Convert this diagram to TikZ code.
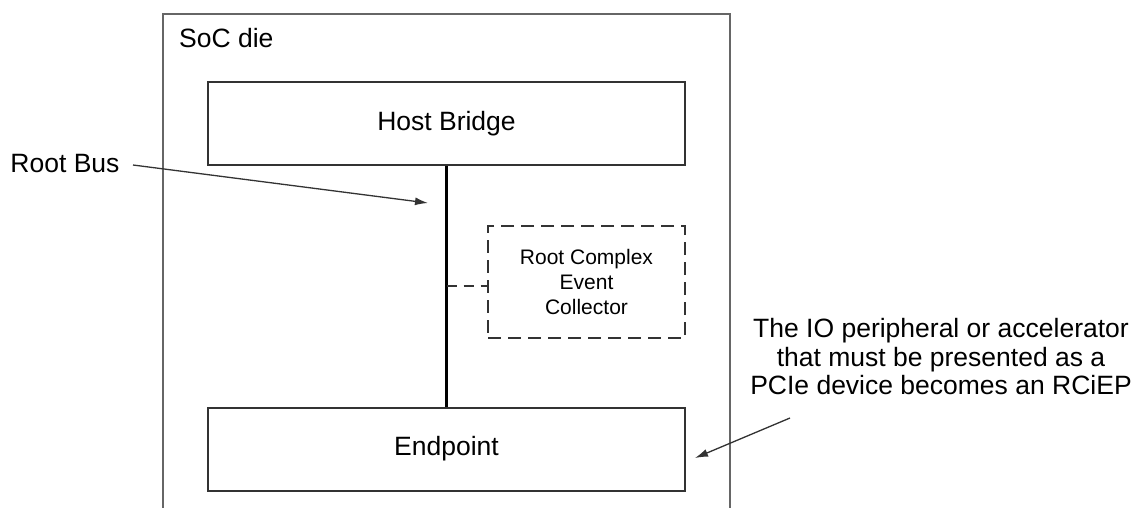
\documentclass[tikz,border=0pt]{standalone}
\usepackage{fontspec}
\setmainfont{Liberation Sans}
\usetikzlibrary{arrows.meta}
\definecolor{boxline}{HTML}{333333}
\definecolor{dieline}{HTML}{666666}
\tikzset{
  mainfont/.style={font=\fontsize{26.5}{28.5}\selectfont},
  smallfont/.style={font=\fontsize{21}{25}\selectfont},
  blockbox/.style={draw=boxline, line width=2pt, minimum width=477pt, minimum height=83pt, inner sep=0pt, mainfont},
  rcecbox/.style={draw=boxline, line width=2.2pt, dash pattern=on 13pt off 7pt, minimum width=197pt, minimum height=112pt, inner sep=0pt, smallfont, align=center},
  busline/.style={line width=3.5pt, black},
  pointer/.style={line width=1.3pt, boxline, -{Latex[length=13pt,width=8pt]}},
}
\begin{document}
\begin{tikzpicture}[x=1pt,y=-1pt]
\useasboundingbox (0,0) rectangle (1141,508);
% SoC die outline (open at the bottom)
\draw[dieline, line width=1.5pt] (163,512) -- (163,14) -- (730,14) -- (730,512);
\node[mainfont, anchor=west, inner sep=0pt] (die) at (179,38) {SoC die};
% blocks
\node[blockbox] (hb) at (446.5,123.5) {Host Bridge};
\node[blockbox] (ep) at (446.5,449) {Endpoint};
\node[rcecbox] (rcec) at (586.5,282) {Root Complex\\Event\\Collector};
% bus
\draw[busline] (hb.south) -- (ep.north);
\draw[boxline, line width=1.5pt, dash pattern=on 10pt off 7pt] (hb.south |- 0,286) -- (rcec.west |- 0,286);
% annotations
\node[mainfont, inner sep=0pt] (rb) at (65,164) {Root Bus};
\coordinate (rbs) at (133,165);
\coordinate (rbe) at (428,203);
\draw[pointer] (rbs) -- (rbe);
\node[mainfont, inner sep=0pt, align=center] (note) at (941,357) {The IO peripheral or accelerator\\that must be presented as a\\PCIe device becomes an RCiEP};
\coordinate (ns) at (790,418);
\coordinate (ne) at (695,458);
\draw[pointer] (ns) -- (ne);
\end{tikzpicture}
\end{document}
